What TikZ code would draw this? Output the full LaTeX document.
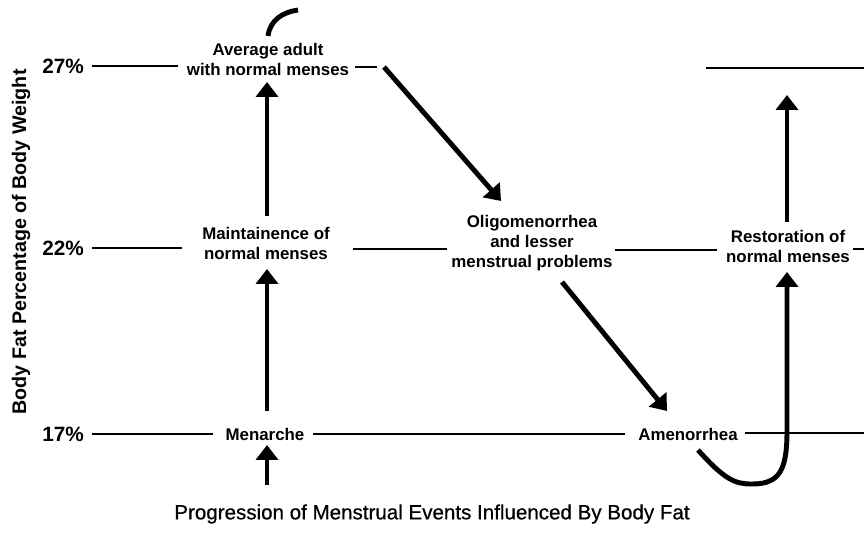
\documentclass[tikz,border=0pt]{standalone}
\usepackage{fontspec}
\setmainfont{Liberation Sans}
\newfontfamily\medfont{Liberation Sans}[FakeBold=0.6]
\usetikzlibrary{arrows.meta}
\begin{document}
\begin{tikzpicture}[x=0.02cm,y=-0.02cm,
  lbl/.style={font=\bfseries\fontsize{9.6}{11.4}\selectfont, align=center, inner sep=0pt},
  pct/.style={font=\bfseries\fontsize{11.8}{14}\selectfont, inner sep=0pt},
  level/.style={line width=0.7pt},
  bigarrow/.style={line width=2.8pt, -{Triangle[width=12.5pt,length=8.5pt]}},
  thickcurve/.style={line width=2.8pt}]
\useasboundingbox (0,0) rectangle (864,538);

% percentage levels
\node[pct] (p27) at (63,66) {27\%};
\node[pct] (p22) at (63,248) {22\%};
\node[pct] (p17) at (63,434) {17\%};
\node[pct, font=\bfseries\fontsize{11.2}{14}\selectfont, rotate=90] (axis) at (21,242)
  {Body Fat Percentage of Body Weight};

% events
\node[lbl] (avg) at (268,59) {Average adult\\with normal menses};
\node[lbl] (maint) at (266,243) {Maintainence of\\normal menses};
\node[lbl] (oligo) at (532,243) {Oligomenorrhea\\and lesser\\menstrual problems};
\node[lbl] (restore) at (788,246) {Restoration of\\normal menses};
\node[lbl] (menarche) at (265,434) {Menarche};
\node[lbl] (amen) at (688,434) {Amenorrhea};

% level lines
\draw[level] (92,66) -- (178,66);
\draw[level] (355,67) -- (377,67);
\draw[line width=1.1pt] (706,68) -- (864,68);
\draw[level] (92,248) -- (182,248);
\draw[level] (353,249) -- (447,249);
\draw[level] (615,250) -- (717,250);
\draw[level] (853,249) -- (864,249);
\draw[level] (92,434) -- (213,434);
\draw[level] (313,434) -- (625,434);
\draw[level] (745,433) -- (864,433);

% progression arrows
\coordinate (start) at (267,485);
\draw[bigarrow] (start) -- (267,445);
\draw[bigarrow] (267,411) -- (267,269);
\draw[bigarrow] (267,216) -- (267,82);
\draw[bigarrow] (384,67) -- (501,201);
\draw[bigarrow] (562,282) -- (667,411);
\draw[bigarrow] (698,450) .. controls (725,480) and (735,484) .. (752,484)
  .. controls (780,484) and (787,470) .. (787,430) -- (787,272);
\draw[bigarrow] (787,222) -- (787,95);
\draw[thickcurve] (268,36) .. controls (270,20) and (283,12) .. (298,10);

% title
\node[font=\medfont\fontsize{11.7}{14}\selectfont, inner sep=0pt] (title) at (432,514)
  {Progression of Menstrual Events Influenced By Body Fat};
\end{tikzpicture}
\end{document}
